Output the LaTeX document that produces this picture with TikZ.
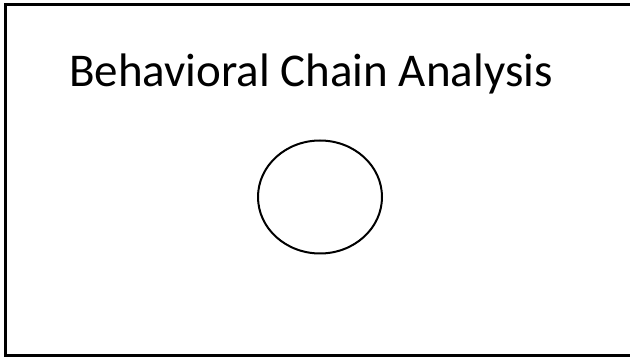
\documentclass[tikz,border=0pt]{standalone}
\usepackage{fontspec}
\setmainfont{Carlito}
\usepackage{tikz}
\usetikzlibrary{shapes.geometric}

\begin{document}
\begin{tikzpicture}[x=1pt,y=-1pt,
  frame/.style={draw,line width=3pt},
  blob/.style={draw,ellipse,line width=2pt,minimum width=124pt,minimum height=113pt,inner sep=0pt}]
\useasboundingbox (0,0) rectangle (630,358);
\clip (0,0) rectangle (630,358);
% outer frame, right edge off the page
\draw[frame] (5.5,4.5) rectangle (640,355.5);
% title
\node[anchor=base west,inner sep=0pt,font=\fontsize{47}{52}\selectfont] (title) at (69,87) {Behavioral Chain Analysis};
% circle below the title
\node[blob] (chain) at (320,197) {};
\end{tikzpicture}
\end{document}
